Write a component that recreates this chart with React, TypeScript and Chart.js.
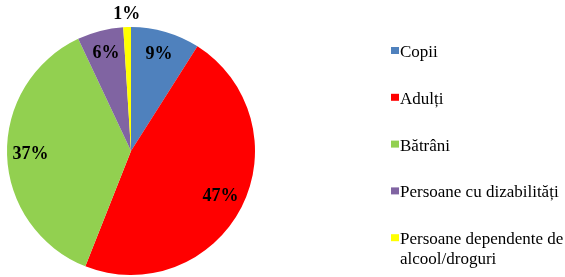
import React, { useEffect, useRef } from "react";
import { Chart, registerables } from "chart.js";

Chart.register(...registerables);

const categories = [
  "Copii",
  "Adulți",
  "Bătrâni",
  "Persoane cu dizabilități",
  "Persoane dependente de alcool/droguri",
];
const legendLines = [
  ["Copii"],
  ["Adulți"],
  ["Bătrâni"],
  ["Persoane cu dizabilități"],
  ["Persoane dependente de", "alcool/droguri"],
];
const values = [9, 47, 37, 6, 1];
const valueLabels = ["9%", "47%", "37%", "6%", "1%"];
const colors = ["#4F81BD", "#FF0000", "#92D050", "#8064A2", "#FFFF00"];

const SERIF = '"Liberation Serif", "Times New Roman", serif';

const labelPlugin = {
  id: "sliceLabels",
  afterDraw(chart: any) {
    const ctx = chart.ctx;
    const meta = chart.getDatasetMeta(0);
    ctx.save();
    ctx.font = `bold 18px ${SERIF}`;
    ctx.fillStyle = "#000";
    ctx.textAlign = "center";
    ctx.textBaseline = "middle";
    meta.data.forEach((arc: any, i: number) => {
      const p = arc.getProps(["x", "y", "startAngle", "endAngle", "outerRadius"], true);
      const mid = (p.startAngle + p.endAngle) / 2;
      const frac = values[i] < 3 ? 1.1 : 0.81;
      const r = p.outerRadius * frac;
      ctx.fillText(valueLabels[i], p.x + Math.cos(mid) * r, p.y + Math.sin(mid) * r);
    });
    ctx.restore();
  },
};

const legendPlugin = {
  id: "customLegend",
  afterDraw(chart: any) {
    const ctx = chart.ctx;
    ctx.save();
    ctx.font = `17px ${SERIF}`;
    ctx.textBaseline = "alphabetic";
    ctx.textAlign = "left";
    const x0 = 391;
    const firstBaseline = 57;
    const rowGap = 46.8;
    const lineGap = 19.5;
    legendLines.forEach((lines, i) => {
      const base = firstBaseline + i * rowGap;
      ctx.fillStyle = colors[i];
      ctx.fillRect(x0, base - 10, 8, 7);
      ctx.fillStyle = "#000";
      lines.forEach((t, j) => {
        ctx.fillText(t, x0 + 9, base + j * lineGap);
      });
    });
    ctx.restore();
  },
};

export default function App() {
  const ref = useRef<HTMLCanvasElement>(null);
  useEffect(() => {
    document.body.style.margin = "0";
    const chart = new Chart(ref.current!, {
      type: "pie",
      data: {
        labels: categories,
        datasets: [
          {
            data: values,
            backgroundColor: colors,
            borderWidth: 0,
          },
        ],
      },
      options: {
        responsive: false,
        animation: false,
        layout: { padding: { left: 7, right: 310, top: 27, bottom: 2 } },
        plugins: {
          legend: { display: false },
          tooltip: { enabled: false },
        },
      },
      plugins: [labelPlugin, legendPlugin],
    });
    return () => chart.destroy();
  }, []);
  return (
    <div style={{ width: 565, height: 277, background: "#fff" }}>
      <canvas ref={ref} width={565} height={277} />
    </div>
  );
}
